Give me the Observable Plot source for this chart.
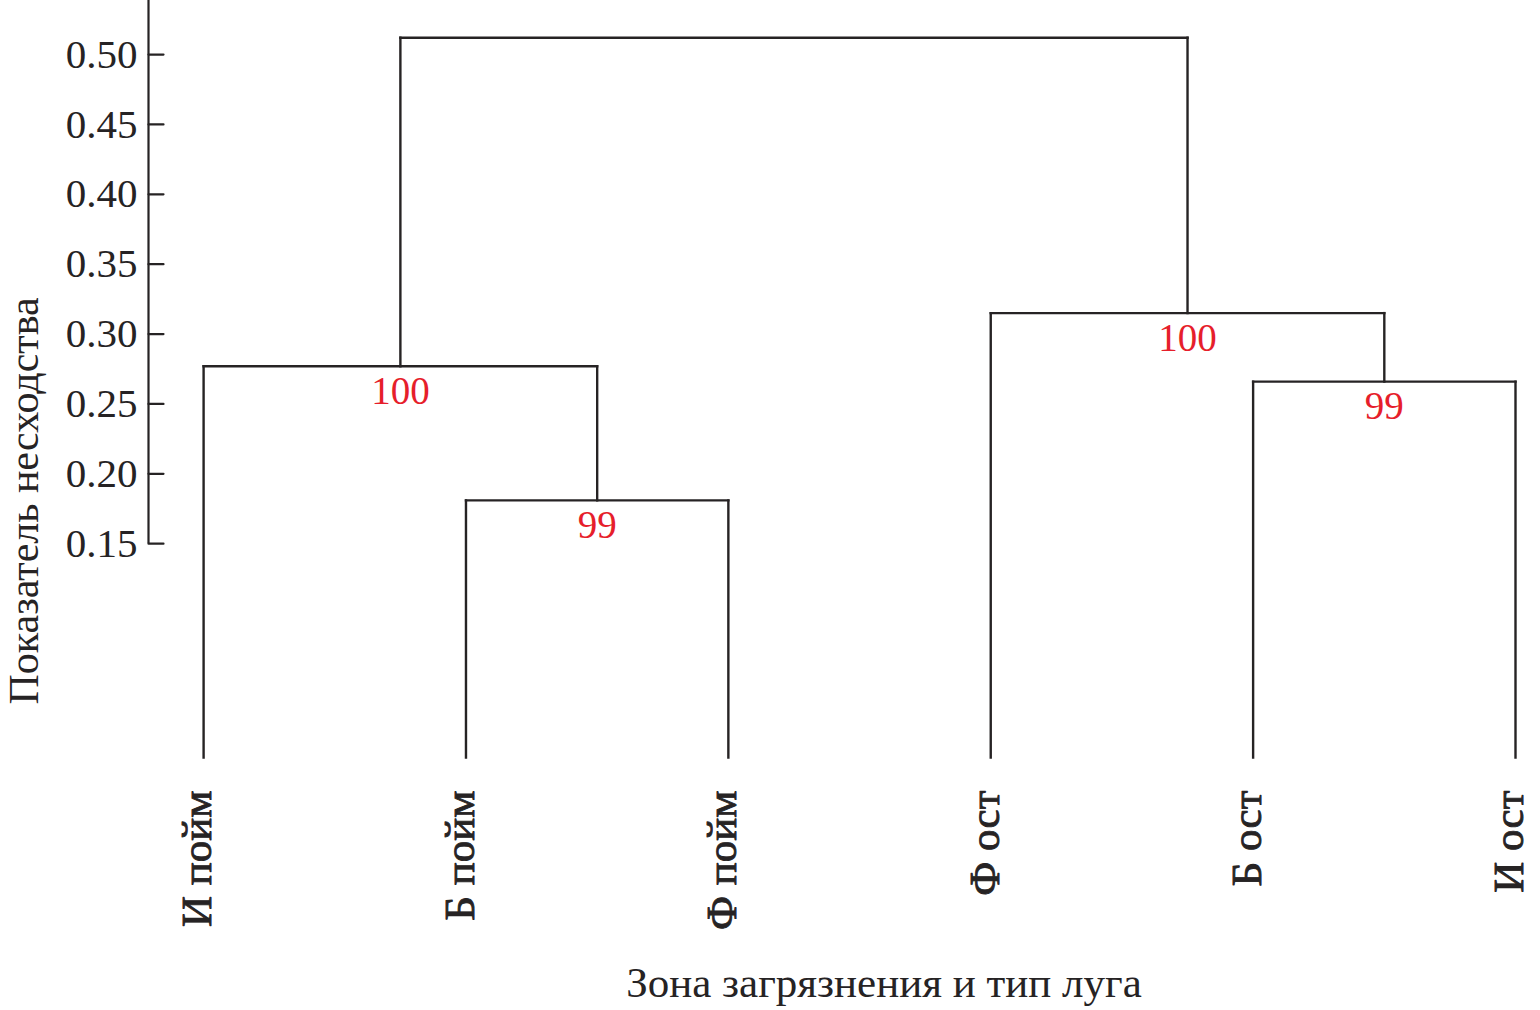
<!DOCTYPE html>
<html>
<head>
<meta charset="utf-8">
<script src="https://cdn.jsdelivr.net/npm/d3@7"></script>
<script src="https://cdn.jsdelivr.net/npm/@observablehq/plot@0.6"></script>
<style>
  html, body { margin: 0; padding: 0; background: #fff; }
  #chart svg { display: block; }
</style>
</head>
<body>
<div id="chart"></div>
<script>
// ---- data ----
const leafNames = ["И пойм", "Б пойм", "Ф пойм", "Ф ост", "Б ост", "И ост"];
// merges (node ids: leaves 0..5, merges 6..10)
const linkLeft = [1, 0, 4, 3, 7];
const linkRight = [2, 6, 5, 8, 9];
const linkHeight = [0.181, 0.277, 0.266, 0.315, 0.512];
const linkSupport = [99, 100, 99, 100, null];
const yTicks = [0.15, 0.20, 0.25, 0.30, 0.35, 0.40, 0.45, 0.50];
const yLabel = "Показатель несходства";
const xLabel = "Зона загрязнения и тип луга";

const xDomain = [-0.21, leafNames.length - 1];
const yDomain = [-0.003, 0.5387];

// ---- build tree geometry (leaves sit on the bottom of the frame) ----
const nodeX = leafNames.map((_, i) => i);
const nodeY = leafNames.map(() => yDomain[0]);
const segments = [];
const supportLabels = [];
linkLeft.forEach((l, k) => {
  const r = linkRight[k], h = linkHeight[k];
  const xm = (nodeX[l] + nodeX[r]) / 2;
  segments.push({x1: nodeX[l], y1: nodeY[l], x2: nodeX[l], y2: h});
  segments.push({x1: nodeX[r], y1: nodeY[r], x2: nodeX[r], y2: h});
  segments.push({x1: nodeX[l], y1: h, x2: nodeX[r], y2: h});
  nodeX.push(xm);
  nodeY.push(h);
  if (linkSupport[k] != null) supportLabels.push({x: xm, y: h, label: String(linkSupport[k])});
});
const leaves = leafNames.map((name, i) => ({x: nodeX[i], y: nodeY[i], name}));

const ink = "#262324";
const serif = "'Liberation Serif', 'DejaVu Serif', serif";
const tickShape = {draw(context, l) { context.moveTo(0, 0); context.lineTo(0, -l); }};

const chart = Plot.plot({
  width: 1540,
  height: 1010,
  marginLeft: 148,
  marginRight: 25,
  marginTop: 0,
  marginBottom: 253,
  style: {fontFamily: serif, background: "#fff", color: ink},
  x: {domain: xDomain, axis: null},
  y: {domain: yDomain, axis: null},
  marks: [
    // y axis line (from 0.15 to the top)
    Plot.ruleX([xDomain[0]], {x: d => d, y1: yTicks[0], y2: yDomain[1], stroke: ink, strokeWidth: 2.2}),
    // inward ticks
    Plot.vector(yTicks, {y: d => d, frameAnchor: "left", rotate: 90, length: 15, anchor: "start", shape: tickShape, stroke: ink, strokeWidth: 2.2}),
    Plot.axisY({ticks: yTicks, tickFormat: ".2f", tickSize: 0, tickPadding: 11, fontSize: 41, label: null, fill: ink}),
    Plot.text([yLabel], {text: d => d, frameAnchor: "left", textAnchor: "middle", lineAnchor: "middle", rotate: -90, dx: -124, dy: 122, fontSize: 42, fill: ink}),
    // dendrogram
    Plot.link(segments, {x1: "x1", y1: "y1", x2: "x2", y2: "y2", stroke: ink, strokeWidth: 2.4, strokeLinecap: "square"}),
    // support values
    Plot.text(supportLabels, {x: "x", y: "y", text: "label", lineAnchor: "top", dy: 10, fontSize: 39, fill: "#e61e2b"}),
    // leaf labels
    Plot.text(leaves, {x: "x", y: "y", text: "name", rotate: -90, textAnchor: "end", dy: 33, dx: -6, fontSize: 43, fill: ink, stroke: ink, strokeWidth: 0.9}),
    // x label
    Plot.text([xLabel], {text: d => d, frameAnchor: "bottom", textAnchor: "middle", lineAnchor: "middle", dx: 52, dy: 226, fontSize: 43, fill: ink})
  ]
});
document.getElementById("chart").appendChild(chart);
</script>
</body>
</html>
